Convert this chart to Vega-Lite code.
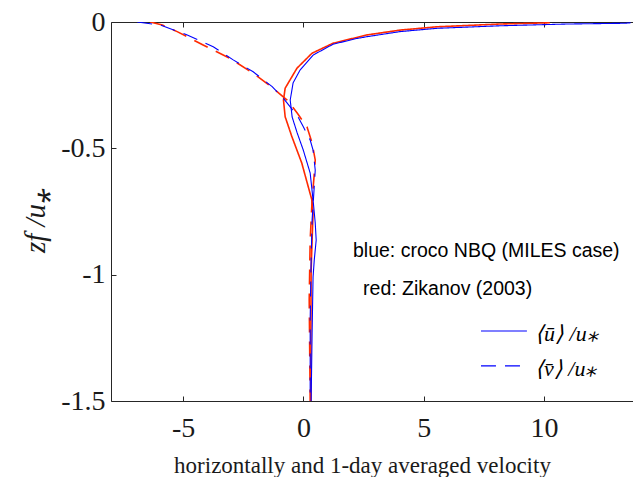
{
  "$schema": "https://vega.github.io/schema/vega-lite/v6.json",
  "autosize": "none",
  "padding": {"left": 111, "top": 22, "right": 0, "bottom": 76},
  "width": 522,
  "height": 379,
  "background": "white",
  "config": {"view": {"stroke": null}},
  "resolve": {"axis": {"x": "independent"}},
  "datasets": {
    "profiles": [
      {"series": "zikanov", "comp": "u", "i": 1, "v": 10.24, "z": -0.003},
      {"series": "zikanov", "comp": "u", "i": 2, "v": 8.17, "z": -0.008},
      {"series": "zikanov", "comp": "u", "i": 3, "v": 5.55, "z": -0.019},
      {"series": "zikanov", "comp": "u", "i": 4, "v": 4.02, "z": -0.032},
      {"series": "zikanov", "comp": "u", "i": 5, "v": 2.65, "z": -0.051},
      {"series": "zikanov", "comp": "u", "i": 6, "v": 1.23, "z": -0.084},
      {"series": "zikanov", "comp": "u", "i": 7, "v": 0.35, "z": -0.124},
      {"series": "zikanov", "comp": "u", "i": 8, "v": -0.27, "z": -0.183},
      {"series": "zikanov", "comp": "u", "i": 9, "v": -0.76, "z": -0.262},
      {"series": "zikanov", "comp": "u", "i": 10, "v": -0.83, "z": -0.309},
      {"series": "zikanov", "comp": "u", "i": 11, "v": -0.76, "z": -0.375},
      {"series": "zikanov", "comp": "u", "i": 12, "v": -0.48, "z": -0.454},
      {"series": "zikanov", "comp": "u", "i": 13, "v": -0.07, "z": -0.558},
      {"series": "zikanov", "comp": "u", "i": 14, "v": 0.2, "z": -0.652},
      {"series": "zikanov", "comp": "u", "i": 15, "v": 0.35, "z": -0.704},
      {"series": "zikanov", "comp": "u", "i": 16, "v": 0.4, "z": -0.756},
      {"series": "zikanov", "comp": "u", "i": 17, "v": 0.36, "z": -0.863},
      {"series": "zikanov", "comp": "u", "i": 18, "v": 0.32, "z": -0.981},
      {"series": "zikanov", "comp": "u", "i": 19, "v": 0.31, "z": -1.219},
      {"series": "zikanov", "comp": "u", "i": 20, "v": 0.31, "z": -1.5},
      {"series": "zikanov", "comp": "v", "i": 1, "v": -6.37, "z": 0},
      {"series": "zikanov", "comp": "v", "i": 2, "v": -5.87, "z": -0.012},
      {"series": "zikanov", "comp": "v", "i": 3, "v": -5.25, "z": -0.038},
      {"series": "zikanov", "comp": "v", "i": 4, "v": -4.17, "z": -0.091},
      {"series": "zikanov", "comp": "v", "i": 5, "v": -3.05, "z": -0.144},
      {"series": "zikanov", "comp": "v", "i": 6, "v": -2.09, "z": -0.203},
      {"series": "zikanov", "comp": "v", "i": 7, "v": -1.26, "z": -0.262},
      {"series": "zikanov", "comp": "v", "i": 8, "v": -0.68, "z": -0.309},
      {"series": "zikanov", "comp": "v", "i": 9, "v": -0.26, "z": -0.36},
      {"series": "zikanov", "comp": "v", "i": 10, "v": 0.15, "z": -0.416},
      {"series": "zikanov", "comp": "v", "i": 11, "v": 0.36, "z": -0.479},
      {"series": "zikanov", "comp": "v", "i": 12, "v": 0.49, "z": -0.546},
      {"series": "zikanov", "comp": "v", "i": 13, "v": 0.44, "z": -0.613},
      {"series": "zikanov", "comp": "v", "i": 14, "v": 0.36, "z": -0.704},
      {"series": "zikanov", "comp": "v", "i": 15, "v": 0.28, "z": -0.863},
      {"series": "zikanov", "comp": "v", "i": 16, "v": 0.24, "z": -1.1},
      {"series": "zikanov", "comp": "v", "i": 17, "v": 0.28, "z": -1.5},
      {"series": "croco", "comp": "u", "i": 1, "v": 13.6, "z": -0.003},
      {"series": "croco", "comp": "u", "i": 2, "v": 13.36, "z": -0.005},
      {"series": "croco", "comp": "u", "i": 3, "v": 10.96, "z": -0.008},
      {"series": "croco", "comp": "u", "i": 4, "v": 8.17, "z": -0.015},
      {"series": "croco", "comp": "u", "i": 5, "v": 5.55, "z": -0.025},
      {"series": "croco", "comp": "u", "i": 6, "v": 4.02, "z": -0.038},
      {"series": "croco", "comp": "u", "i": 7, "v": 2.65, "z": -0.058},
      {"series": "croco", "comp": "u", "i": 8, "v": 2.23, "z": -0.065},
      {"series": "croco", "comp": "u", "i": 9, "v": 1.23, "z": -0.088},
      {"series": "croco", "comp": "u", "i": 10, "v": 0.4, "z": -0.131},
      {"series": "croco", "comp": "u", "i": 11, "v": -0.14, "z": -0.19},
      {"series": "croco", "comp": "u", "i": 12, "v": -0.43, "z": -0.241},
      {"series": "croco", "comp": "u", "i": 13, "v": -0.55, "z": -0.309},
      {"series": "croco", "comp": "u", "i": 14, "v": -0.47, "z": -0.376},
      {"series": "croco", "comp": "u", "i": 15, "v": -0.26, "z": -0.439},
      {"series": "croco", "comp": "u", "i": 16, "v": -0.01, "z": -0.506},
      {"series": "croco", "comp": "u", "i": 17, "v": 0.28, "z": -0.598},
      {"series": "croco", "comp": "u", "i": 18, "v": 0.4, "z": -0.704},
      {"series": "croco", "comp": "u", "i": 19, "v": 0.49, "z": -0.795},
      {"series": "croco", "comp": "u", "i": 20, "v": 0.53, "z": -0.863},
      {"series": "croco", "comp": "u", "i": 21, "v": 0.45, "z": -0.942},
      {"series": "croco", "comp": "u", "i": 22, "v": 0.4, "z": -1.009},
      {"series": "croco", "comp": "u", "i": 23, "v": 0.36, "z": -1.231},
      {"series": "croco", "comp": "u", "i": 24, "v": 0.32, "z": -1.5},
      {"series": "croco", "comp": "v", "i": 1, "v": -6.91, "z": 0},
      {"series": "croco", "comp": "v", "i": 2, "v": -5.95, "z": -0.012},
      {"series": "croco", "comp": "v", "i": 3, "v": -4.83, "z": -0.051},
      {"series": "croco", "comp": "v", "i": 4, "v": -3.75, "z": -0.098},
      {"series": "croco", "comp": "v", "i": 5, "v": -2.92, "z": -0.15},
      {"series": "croco", "comp": "v", "i": 6, "v": -2.09, "z": -0.197},
      {"series": "croco", "comp": "v", "i": 7, "v": -1.3, "z": -0.256},
      {"series": "croco", "comp": "v", "i": 8, "v": -0.84, "z": -0.301},
      {"series": "croco", "comp": "v", "i": 9, "v": -0.55, "z": -0.336},
      {"series": "croco", "comp": "v", "i": 10, "v": -0.22, "z": -0.376},
      {"series": "croco", "comp": "v", "i": 11, "v": -0.01, "z": -0.414},
      {"series": "croco", "comp": "v", "i": 12, "v": 0.28, "z": -0.467},
      {"series": "croco", "comp": "v", "i": 13, "v": 0.4, "z": -0.507},
      {"series": "croco", "comp": "v", "i": 14, "v": 0.49, "z": -0.586},
      {"series": "croco", "comp": "v", "i": 15, "v": 0.44, "z": -0.665},
      {"series": "croco", "comp": "v", "i": 16, "v": 0.36, "z": -0.784},
      {"series": "croco", "comp": "v", "i": 17, "v": 0.32, "z": -0.942},
      {"series": "croco", "comp": "v", "i": 18, "v": 0.28, "z": -1.179},
      {"series": "croco", "comp": "v", "i": 19, "v": 0.28, "z": -1.5}
    ],
    "legendlines": [
      {"comp": "u", "x1": 7.38, "x2": 9.29, "z": -1.223},
      {"comp": "v", "x1": 7.38, "x2": 9.29, "z": -1.361}
    ],
    "notes": [
      {"label": "blue: croco NBQ (MILES case)", "x": 2.06, "z": -0.906},
      {"label": "red: Zikanov (2003)", "x": 2.48, "z": -1.057}
    ],
    "legendtext": [
      {"label": "⟨ū⟩ /u⁎", "x": 9.63, "z": -1.235},
      {"label": "⟨v̄⟩ /u⁎", "x": 9.63, "z": -1.373}
    ]
  },
  "layer": [
    {
      "data": {"name": "profiles"},
      "mark": {"type": "line", "clip": true, "strokeCap": "butt"},
      "encoding": {
        "x": {
          "field": "v", "type": "quantitative",
          "scale": {"domain": [-8, 13.7], "nice": false, "zero": false},
          "axis": {
            "orient": "bottom",
            "values": [-5, 0, 5, 10],
            "labelExpr": "'' + datum.value",
            "title": "horizontally and 1-day averaged velocity",
            "grid": false,
            "domainColor": "#262626", "tickColor": "#262626",
            "tickSize": -5, "labelPadding": 18,
            "labelFont": "Liberation Serif", "labelFontSize": 28, "labelColor": "#1a1a1a",
            "titleFont": "Liberation Serif", "titleFontSize": 23, "titleFontWeight": "normal", "titleColor": "#1a1a1a",
            "titleX": 251, "titleY": 71, "titleBaseline": "alphabetic", "titleAnchor": null, "titleAlign": "center"
          }
        },
        "y": {
          "field": "z", "type": "quantitative",
          "scale": {"domain": [-1.5, 0], "nice": false, "zero": false},
          "axis": {
            "values": [-1.5, -1, -0.5, 0],
            "labelExpr": "'' + datum.value",
            "title": "zf /u⁎",
            "grid": false,
            "domainColor": "#262626", "tickColor": "#262626",
            "tickSize": -5, "labelPadding": 11,
            "labelFont": "Liberation Serif", "labelFontSize": 28, "labelColor": "#1a1a1a",
            "titleFont": "Liberation Serif", "titleFontSize": 29, "titleFontStyle": "italic", "titleFontWeight": "normal", "titleColor": "#1a1a1a",
            "titleX": -76, "titleY": 198, "titleBaseline": "middle", "titleAngle": -90, "titleAnchor": null, "titleAlign": "center"
          }
        },
        "color": {"field": "series", "type": "nominal", "scale": {"domain": ["zikanov", "croco"], "range": ["#ff2a00", "#0000ff"]}, "legend": null},
        "strokeWidth": {"field": "series", "type": "nominal", "scale": {"domain": ["zikanov", "croco"], "range": [1.6, 1.1]}, "legend": null},
        "strokeDash": {"field": "comp", "type": "nominal", "scale": {"domain": ["u", "v"], "range": [[1, 0], [15, 9]]}, "legend": null},
        "order": {"field": "i", "type": "quantitative"}
      }
    },
    {
      "data": {"name": "profiles"},
      "mark": {"type": "rule", "opacity": 0},
      "encoding": {
        "x": {"field": "v", "type": "quantitative", "axis": {"orient": "top", "values": [-5, 0, 5, 10], "labels": false, "title": null, "grid": false, "tickSize": -5, "domainColor": "#262626", "tickColor": "#262626"}}
      }
    },
    {
      "data": {"name": "legendlines"},
      "mark": {"type": "rule", "color": "#0000ff", "strokeWidth": 1.1},
      "encoding": {
        "x": {"field": "x1", "type": "quantitative", "axis": null},
        "x2": {"field": "x2"},
        "y": {"field": "z", "type": "quantitative"},
        "strokeDash": {"field": "comp", "type": "nominal", "scale": {"domain": ["u", "v"], "range": [[1, 0], [15, 10]]}, "legend": null}
      }
    },
    {
      "data": {"name": "notes"},
      "mark": {"type": "text", "align": "left", "baseline": "middle", "font": "Liberation Sans", "fontSize": 19.5, "color": "#000000"},
      "encoding": {
        "x": {"field": "x", "type": "quantitative", "axis": null},
        "y": {"field": "z", "type": "quantitative"},
        "text": {"field": "label"}
      }
    },
    {
      "data": {"name": "legendtext"},
      "mark": {"type": "text", "align": "left", "baseline": "middle", "font": "Liberation Serif", "fontStyle": "italic", "fontSize": 22, "color": "#000000"},
      "encoding": {
        "x": {"field": "x", "type": "quantitative", "axis": null},
        "y": {"field": "z", "type": "quantitative"},
        "text": {"field": "label"}
      }
    }
  ]
}
